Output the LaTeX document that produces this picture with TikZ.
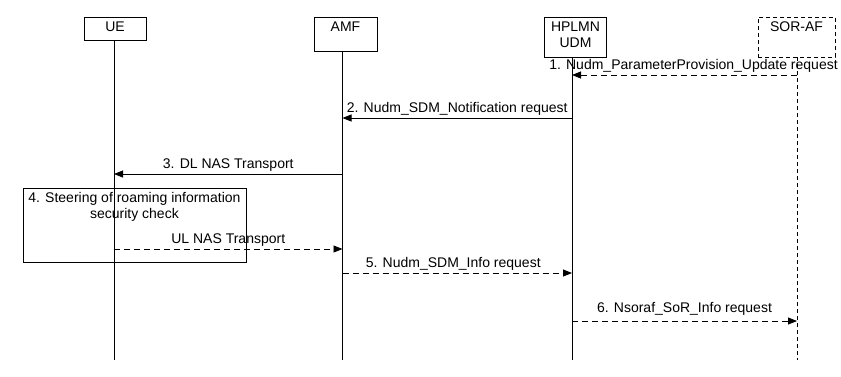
\documentclass[tikz,border=0pt]{standalone}
\usepackage{fontspec}
\setmainfont{Liberation Sans}
\usetikzlibrary{arrows.meta, positioning}

\begin{document}
\begin{tikzpicture}[x=1pt, y=-1pt, font=\fontsize{14}{16}\selectfont,
        actor/.style={draw, anchor=north, inner sep=4pt, text height=10pt, align=center},
        life/.style={line width=0.8pt},
        msg/.style={line width=0.8pt, -{Triangle[length=9pt, width=7pt]}},
        reply/.style={msg, dash pattern=on 6pt off 4pt},
        lbl/.style={above=1pt, inner sep=1pt, text height=10pt, text depth=3pt}]
    \useasboundingbox (0,0) rectangle (841,376);

    \node[actor, minimum width=62pt, text depth=5pt] (ue) at (115,17) {UE};
    \node[actor, minimum width=62.5pt, text depth=16pt] (amf) at (345.5,17) {AMF};
    \node[actor, minimum width=62pt, text height=26pt, text depth=6pt] (udm) at (575.5,17) {HPLMN\\UDM};
    \node[actor, minimum width=77pt, text depth=22pt, dash pattern=on 4pt off 3pt] (af) at (796.5,17) {SOR-AF};

    \coordinate (ueEnd) at (114,360);
    \coordinate (amfEnd) at (342.5,360);
    \coordinate (udmEnd) at (572,360);
    \coordinate (afEnd) at (797,360);

    \draw[life] (ue.south -| ueEnd) -- (ueEnd);
    \draw[life] (amf.south -| amfEnd) -- (amfEnd);
    \draw[life] (udm.south -| udmEnd) -- (udmEnd);
    \draw[life, dash pattern=on 4pt off 3pt] (af.south -| afEnd) -- (afEnd);

    \foreach \n/\y in {1/75, 2/118, 3/174, 4/249, 5/273, 6/321}
        \coordinate (m\n) at (0,\y);

    \node[draw, anchor=north west, minimum width=222.5pt, minimum height=74pt, inner sep=2pt,
        text height=28pt, text depth=42pt, align=center] (check) at (23,188)
        {4. Steering of roaming information\\security check};

    \draw
    (afEnd |- m1) edge[reply] node[lbl, xshift=9pt] {1. Nudm\_ParameterProvision\_Update request} (udmEnd |- m1)
    (udmEnd |- m2) edge[msg] node[lbl] {2. Nudm\_SDM\_Notification request} (amfEnd |- m2)
    (amfEnd |- m3) edge[msg] node[lbl] {3. DL NAS Transport} (ueEnd |- m3)
    (ueEnd |- m4) edge[reply] node[lbl] {UL NAS Transport} (amfEnd |- m4)
    (amfEnd |- m5) edge[reply] node[lbl, xshift=-4pt] {5. Nudm\_SDM\_Info request} (udmEnd |- m5)
    (udmEnd |- m6) edge[reply] node[lbl, yshift=3pt] {6. Nsoraf\_SoR\_Info request} (afEnd |- m6);
\end{tikzpicture}
\end{document}
